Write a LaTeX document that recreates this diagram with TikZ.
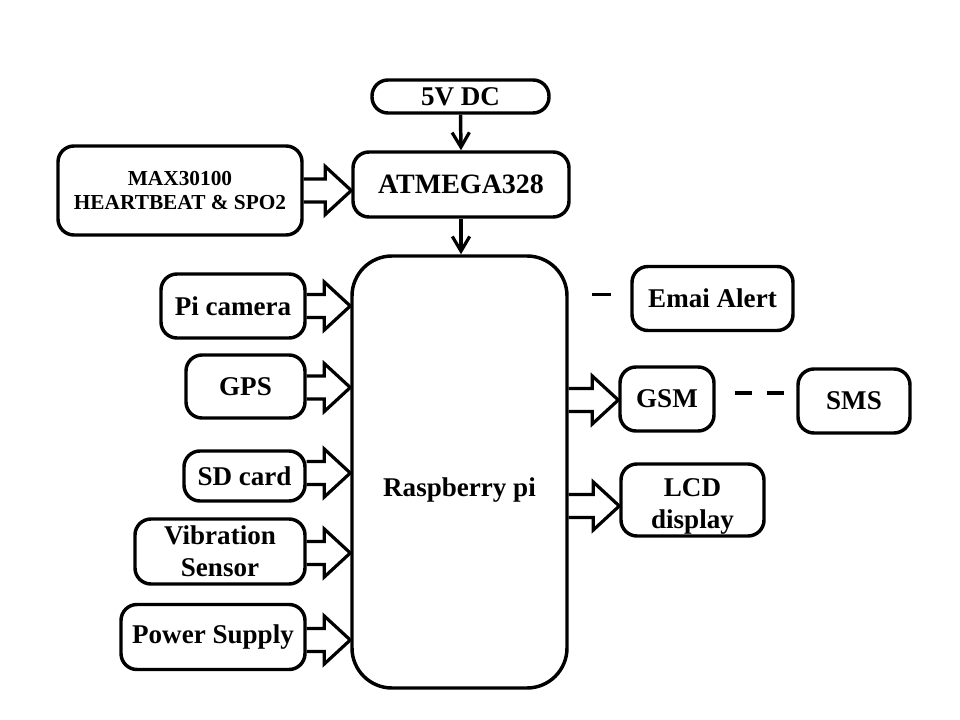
\documentclass[tikz,border=0pt]{standalone}
\usepackage{fontspec}
\setmainfont{Liberation Serif}
\usetikzlibrary{arrows.meta,calc}
\tikzset{
  txt/.style={font=\fontsize{20.3}{24}\selectfont\bfseries},
  box/.style={draw, line width=2.6pt, rounded corners=12pt, align=center, inner sep=2pt, txt},
  sz/.style 2 args={minimum width=#1*0.75pt, minimum height=#2*0.75pt},
  harrow/.style={draw, line width=2.4pt, line join=miter},
  downarr/.style={line width=2.6pt, -{Straight Barb[length=11pt,width=13pt,line width=2.4pt]}},
  dashline/.style={line width=2.6pt}
}
\newcommand\blockarr[3][0]{%
  \draw[harrow] ($#2+(0,#1-11.5)$) -- ($#3+(-26,#1-11.5)$) -- ($#3+(-26,#1-24)$) -- ($#3+(0,#1)$)
    -- ($#3+(-26,#1+24)$) -- ($#3+(-26,#1+11.5)$) -- ($#2+(0,#1+11.5)$);}
\begin{document}
\begin{tikzpicture}[x=0.75pt,y=-0.75pt]
\useasboundingbox (0,0) rectangle (960,720);
\node[box, sz={177}{33}] (v5) at (460.5,96.5) {5V DC};
\node[box, sz={216}{65}, font=\fontsize{21}{24}\selectfont\bfseries] (atm) at (461,184.5) {ATMEGA328};
\node[box, sz={244}{89}, font=\fontsize{16}{17.5}\selectfont\bfseries] (max) at (180,190.5) {MAX30100\\HEARTBEAT \& SPO2};
\node[box, sz={215}{432}, rounded corners=30pt, label={[txt, yshift=-13.5pt]center:Raspberry pi}] (rpi) at (459.5,472) {};
\node[box, sz={144}{64}] (cam) at (233,306) {Pi camera};
\node[box, sz={119}{63}] (gps) at (245.5,386.5) {GPS};
\node[box, sz={121}{50}] (sd) at (244.5,476) {SD card};
\node[box, sz={170}{65}] (vib) at (220,551.5) {Vibration\\Sensor};
\node[box, sz={184}{65}] (pwr) at (213,637) {Power Supply};
\node[box, sz={161}{64}] (emai) at (712.5,298.5) {Emai Alert};
\node[box, sz={94}{64}] (gsm) at (667,399) {GSM};
\node[box, sz={112}{64}] (sms) at (854,401) {SMS};
\node[box, sz={143}{72}, label={[txt, align=center, yshift=-4.5pt]center:LCD\\ display}] (lcd) at (692.5,500) {};
% down arrows
\draw[downarr] (v5.south) -- (atm.north);
\draw[downarr] (atm.south) -- (atm.south |- rpi.north);
% block arrows into ATMEGA and Raspberry pi
\blockarr{(max.east)}{(max.east -| atm.west)}
\blockarr{(cam.east)}{(cam.east -| rpi.west)}
\blockarr[1]{(gps.east)}{(gps.east -| rpi.west)}
\blockarr[-3]{(sd.east)}{(sd.east -| rpi.west)}
\blockarr[1.5]{(vib.east)}{(vib.east -| rpi.west)}
\blockarr[3]{(pwr.east)}{(pwr.east -| rpi.west)}
% block arrows out of Raspberry pi
\blockarr[1]{(gsm.west -| rpi.east)}{(gsm.west)}
\blockarr[6]{(lcd.west -| rpi.east)}{(lcd.west)}
% dashes
\coordinate (d1) at ($(emai.west)+(-38,-4)$);
\coordinate (d2) at ($(emai.west)+(-19,-4)$);
\draw[dashline] (d1) -- (d2);
\draw[dashline, dash pattern=on 0pt off 14.25pt on 12.75pt off 11.25pt on 12.75pt off 100pt] ($(gsm.east)+(0,-6)$) -- ($(gsm.east -| sms.west)+(0,-6)$);
\end{tikzpicture}
\end{document}
